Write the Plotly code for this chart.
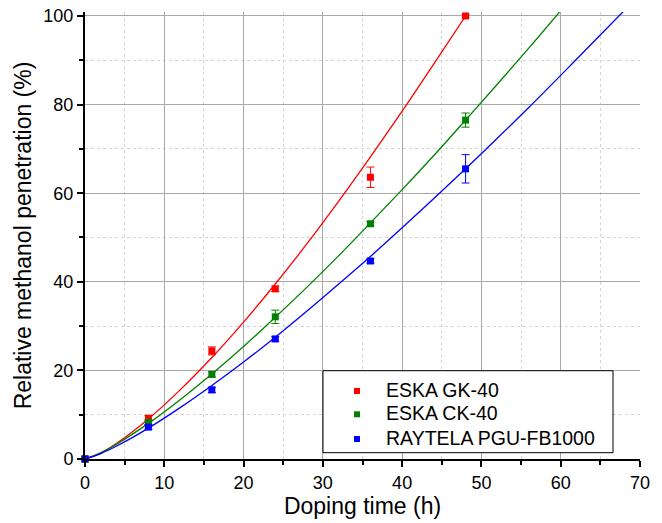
import plotly.graph_objects as go

# Measured data points (doping time in h, relative methanol penetration in %)
time_h = [0, 8, 16, 24, 36, 48]
gk40 = [0, 9.2, 24.4, 38.4, 63.6, 100.0]
gk40_err = [0, 0.6, 0.9, 0.6, 2.3, 0.3]
ck40 = [0, 8.3, 19.1, 32.1, 53.1, 76.5]
ck40_err = [0, 0.5, 0.6, 1.5, 0.5, 1.6]
pgu = [0, 7.2, 15.6, 27.1, 44.7, 65.5]
pgu_err = [0, 0.5, 0.6, 0.5, 0.5, 3.2]

# Fitted curves
fit_x_gk = [0, 2, 4, 8, 12, 16, 20, 24, 28, 32, 36, 40, 44, 48]
fit_gk = [0, 1.4, 3.56, 9.04, 15.6, 22.9, 30.9, 39.5, 48.6, 58.2, 68.2, 78.5, 89.2, 100.0]
fit_x_ck = [0, 2, 4, 8, 12, 16, 20, 24, 28, 32, 36, 40, 44, 48, 52, 56, 60]
fit_ck = [0, 1.41, 3.36, 8.04, 13.4, 19.2, 25.4, 32.0, 38.8, 45.9, 53.3, 60.8, 68.5, 76.5, 84.6, 92.8, 101.2]
fit_x_pgu = [0, 2, 4, 8, 12, 16, 20, 24, 28, 32, 36, 40, 44, 48, 52, 56, 60, 64, 68]
fit_pgu = [0, 1.23, 2.93, 6.98, 11.6, 16.6, 21.9, 27.5, 33.4, 39.5, 45.7, 52.2, 58.8, 65.5, 72.4, 79.4, 86.6, 93.9, 101.2]

names = ["ESKA GK-40", "ESKA CK-40", "RAYTELA PGU-FB1000"]
colors = ["#ff0000", "#008000", "#0000ff"]

x_ticks = [0, 10, 20, 30, 40, 50, 60, 70]
y_ticks = [0, 20, 40, 60, 80, 100]

fig = go.Figure()

fits = [(fit_x_gk, fit_gk), (fit_x_ck, fit_ck), (fit_x_pgu, fit_pgu)]
for (fx, fy), c in zip(fits, colors):
    fig.add_trace(go.Scatter(x=fx, y=fy, mode="lines", line=dict(color=c, width=1.3, shape="spline"),
                             showlegend=False, hoverinfo="skip"))

pts = [(gk40, gk40_err), (ck40, ck40_err), (pgu, pgu_err)]
for (vy, ve), c, n in zip(pts, colors, names):
    fig.add_trace(go.Scatter(x=time_h, y=vy, mode="markers", name=n, showlegend=False,
                             marker=dict(symbol="square", size=7, color=c),
                             error_y=dict(type="data", array=ve, visible=True, color=c, thickness=1, width=4),
                             cliponaxis=False))

font_family = "Arial, Liberation Sans, sans-serif"
axis_common = dict(
    showline=True, linewidth=2, linecolor="black", mirror=False,
    ticks="outside", ticklen=6, tickwidth=1.5, tickcolor="black",
    showgrid=True, gridcolor="#a8a8a8", gridwidth=1, zeroline=False,
    automargin=False, ticklabeloverflow="allow",
    tickfont=dict(family=font_family, size=18, color="black"),
    minor=dict(ticks="outside", ticklen=4, tickwidth=1.5, tickcolor="black",
               showgrid=True, gridcolor="#d4d4d4", griddash="dot", gridwidth=1),
)

fig.update_xaxes(range=[0, 70], tickvals=x_ticks, minor_dtick=5,
                 title=dict(text="Doping time (h)", font=dict(family=font_family, size=23, color="black"), standoff=4),
                 **axis_common)
fig.update_yaxes(range=[0, 100.9], tickvals=y_ticks, minor_dtick=10,
                 title=dict(text="Relative methanol penetration (%)", font=dict(family=font_family, size=23, color="black"), standoff=5),
                 **axis_common)

# Legend box drawn manually (box, square markers, labels)
fig.add_shape(type="rect", xref="paper", yref="paper", x0=0.4288, x1=0.9514, y0=0.0141, y1=0.1975,
              line=dict(color="black", width=1), fillcolor="white", layer="above")
legend_rows = [0.1521, 0.1000, 0.0447]
for n, c, yy in zip(names, colors, legend_rows):
    fig.add_shape(type="rect", xref="paper", yref="paper", xsizemode="pixel", ysizemode="pixel",
                  xanchor=0.4901, yanchor=yy, x0=-3, x1=3, y0=-3, y1=3,
                  line=dict(width=0), fillcolor=c, layer="above")
    fig.add_annotation(text=n, xref="paper", yref="paper", x=0.5387, y=yy + 0.002,
                       xanchor="left", yanchor="middle", showarrow=False,
                       font=dict(family=font_family, size=19.5, color="black"))

fig.update_layout(
    width=662, height=523,
    margin=dict(l=85, r=22, t=12, b=64),
    plot_bgcolor="white", paper_bgcolor="white",
    font=dict(family=font_family, color="black"),
    showlegend=False,
)

fig.write_html("out.html", config={"displayModeBar": False},
               post_script="document.body.style.margin='0px';document.body.style.overflow='hidden';")
